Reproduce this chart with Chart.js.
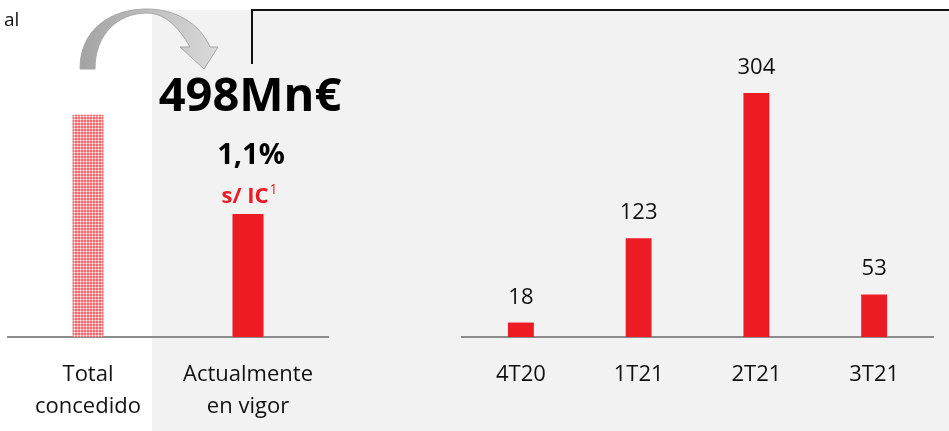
<!DOCTYPE html>
<html>
<head>
<meta charset="utf-8">
<script src="https://cdn.jsdelivr.net/npm/chart.js@4.4.1/dist/chart.umd.min.js"></script>
<style>
  body { margin: 0; background: #ffffff; }
  #wrap { position: relative; width: 949px; height: 431px; overflow: hidden; }
  #shade { position: absolute; left: 152px; top: 10px; width: 797px; height: 421px; background: #f2f2f2; }
  #bracket { position: absolute; left: 251px; top: 9px; width: 720px; height: 53px;
             border-left: 2px solid #111; border-top: 2px solid #111; }
  #left { position: absolute; left: 0; top: 0; }
  #right { position: absolute; left: 440px; top: 0; }
</style>
</head>
<body>
<div id="wrap">
  <div id="shade"></div>
  <div id="bracket"></div>
  <canvas id="left" width="440" height="431"></canvas>
  <canvas id="right" width="509" height="431"></canvas>
</div>
<script>
// left block: total granted vs currently in force (Mn€)
var leftLabels = [['Total', 'concedido'], ['Actualmente', 'en vigor']];
var leftValues = [900, 498];
var leftMax = 1300;

// right block: quarterly figures
var quarterLabels = ['4T20', '1T21', '2T21', '3T21'];
var quarterValues = [18, 123, 304, 53];
var rightMax = 400;

var RED = '#ed1c24';
var FONT = "'Open Sans', sans-serif";

function hatch() {
    var c = document.createElement('canvas');
    c.width = 3; c.height = 3;
    var g = c.getContext('2d');
    g.fillStyle = '#f26a70';
    g.fillRect(0, 0, 3, 3);
    g.fillStyle = '#f8b0b3';
    g.fillRect(2, 0, 1, 3);
    g.fillRect(0, 2, 3, 1);
    g.fillStyle = '#fff0f0';
    g.fillRect(2, 2, 1, 1);
    return g.createPattern(c, 'repeat');
}

var leftDecor = {
    id: 'leftDecor',
    afterDraw: function(chart) {
        var ctx = chart.ctx;
        ctx.save();
        // curved arrow
        var grad = ctx.createLinearGradient(80, 0, 218, 0);
        grad.addColorStop(0, '#a3a3a3');
        grad.addColorStop(1, '#dadada');
        ctx.beginPath();
        ctx.moveTo(80, 69);
        ctx.bezierCurveTo(80, 28, 112, 9, 147, 9);
        ctx.bezierCurveTo(176, 9, 200, 24, 210, 47);
        ctx.lineTo(218, 47);
        ctx.lineTo(204, 69);
        ctx.lineTo(180, 47);
        ctx.lineTo(190, 47);
        ctx.bezierCurveTo(178, 26, 164, 13, 147, 13);
        ctx.bezierCurveTo(118, 13, 95, 34, 95, 69);
        ctx.closePath();
        ctx.fillStyle = grad;
        ctx.fill();
        ctx.strokeStyle = '#a6a6a6';
        ctx.lineWidth = 1;
        ctx.stroke();

        ctx.fillStyle = '#111';
        ctx.textBaseline = 'alphabetic';
        ctx.textAlign = 'left';
        ctx.font = '19px ' + FONT;
        ctx.fillText('al', 4, 26);

        ctx.textAlign = 'center';
        ctx.fillStyle = '#000';
        ctx.font = 'bold 47px ' + FONT;
        ctx.fillText('498Mn€', 250, 111);
        ctx.font = 'bold 29px ' + FONT;
        ctx.fillText('1,1%', 251, 164);

        ctx.fillStyle = RED;
        ctx.font = 'bold 22px ' + FONT;
        var w1 = ctx.measureText('s/ IC').width;
        ctx.font = '14px ' + FONT;
        var w2 = ctx.measureText('1').width;
        var x0 = 249 - (w1 + w2) / 2;
        ctx.textAlign = 'left';
        ctx.font = 'bold 22px ' + FONT;
        ctx.fillText('s/ IC', x0, 203);
        ctx.font = '14px ' + FONT;
        ctx.fillText('1', x0 + w1 + 1, 194);
        ctx.restore();
    }
};

var valueLabels = {
    id: 'valueLabels',
    afterDatasetsDraw: function(chart) {
        var ctx = chart.ctx;
        var meta = chart.getDatasetMeta(0);
        ctx.save();
        ctx.fillStyle = '#111';
        ctx.font = '22px ' + FONT;
        ctx.textAlign = 'center';
        ctx.textBaseline = 'alphabetic';
        meta.data.forEach(function(bar, i) {
            ctx.fillText(String(quarterValues[i]), bar.x, bar.y - 19);
        });
        ctx.restore();
    }
};

function xAxis() {
    return {
        grid: { display: false, drawTicks: false },
        border: { display: true, color: '#8c8c8c', width: 2 },
        ticks: { color: '#111', font: { family: FONT, size: 22, lineHeight: 1.45 }, padding: 22, maxRotation: 0 },
        afterFit: function(s) { s.height = 94; }
    };
}

new Chart(document.getElementById('left'), {
    type: 'bar',
    data: {
        labels: leftLabels,
        datasets: [{
            data: leftValues,
            backgroundColor: [hatch(), RED],
            borderWidth: 0,
            barPercentage: 0.194,
            categoryPercentage: 1
        }]
    },
    options: {
        responsive: false,
        animation: false,
        layout: { padding: { left: 8, right: 112, top: 16, bottom: 0 } },
        plugins: { legend: { display: false }, tooltip: { enabled: false } },
        scales: {
            x: xAxis(),
            y: { display: false, min: 0, max: leftMax }
        }
    },
    plugins: [leftDecor]
});

new Chart(document.getElementById('right'), {
    type: 'bar',
    data: {
        labels: quarterLabels,
        datasets: [{
            data: quarterValues,
            backgroundColor: RED,
            borderWidth: 0,
            barPercentage: 0.22,
            categoryPercentage: 1
        }]
    },
    options: {
        responsive: false,
        animation: false,
        layout: { padding: { left: 22, right: 16, top: 16, bottom: 0 } },
        plugins: { legend: { display: false }, tooltip: { enabled: false } },
        scales: {
            x: xAxis(),
            y: { display: false, min: 0, max: rightMax }
        }
    },
    plugins: [valueLabels]
});
</script>
</body>
</html>
